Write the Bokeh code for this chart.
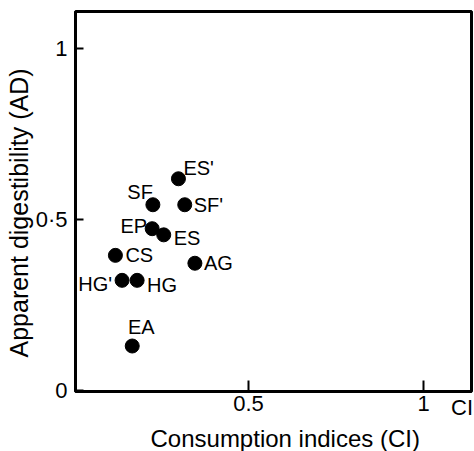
from bokeh.plotting import figure
from bokeh.models import ColumnDataSource, FixedTicker, LinearAxis, Title
from bokeh.core.properties import value
from bokeh.embed import file_html
from bokeh.resources import INLINE

# ---- data ----
names = ["ES'", "SF", "SF'", "EP", "ES", "CS", "AG", "HG'", "HG", "EA"]
ci = [0.30, 0.227, 0.318, 0.225, 0.258, 0.12, 0.347, 0.139, 0.182, 0.168]
ad = [0.619, 0.543, 0.543, 0.473, 0.455, 0.395, 0.372, 0.322, 0.322, 0.13]
x_ticks = [0.5, 1]
x_tick_labels = ["0.5", "1"]
x_unit_pos = [1.11]
x_unit_label = ["CI"]
y_ticks = [0, 0.5, 1]
y_tick_labels = ["0", "0·5", "1"]

# ---- label placement (layout, screen pixels) ----
lab_dx = [5, 0, 9, -5, 10, 10, 9, -10, 10, 9]
lab_dy = [-11, -13, 0, -3, 3, 0, 0, 4, 5, -19]
lab_align = ["left", "right", "left", "right", "left", "left", "left", "right", "left", "center"]

FONT = "Liberation Sans"

p = figure(width=474, height=451, output_backend="svg", toolbar_location=None,
           x_range=(0.006, 1.137), y_range=(-0.003, 1.108),
           min_border_left=75, min_border_right=3, min_border_top=11, min_border_bottom=60)
p.background_fill_color = "white"
p.border_fill_color = "white"
p.outline_line_color = "black"
p.outline_line_width = 3
p.xgrid.visible = False
p.ygrid.visible = False

def style(ax, ticks, labels, tin):
    ax.ticker = FixedTicker(ticks=ticks)
    ax.major_label_overrides = {t: l for t, l in zip(ticks, labels)}
    ax.major_tick_in = tin
    ax.major_tick_out = 0
    ax.minor_tick_line_color = None
    ax.major_tick_line_width = 2
    ax.major_tick_line_color = "black"
    ax.axis_line_width = 3
    ax.axis_line_color = "black"
    ax.major_label_text_font = FONT
    ax.major_label_text_font_size = "22px"
    ax.major_label_text_color = "black"

# bottom axis: line, ticks and tick labels
xa = p.xaxis[0]
style(xa, x_ticks, x_tick_labels, 11)
xa.major_label_standoff = 4

# second bottom axis: only the unit mark, pulled up to the tick-label row
xb = LinearAxis()
style(xb, x_unit_pos, x_unit_label, 0)
xb.axis_line_color = None
xb.major_tick_line_color = None
xb.major_label_standoff = -19
p.add_layout(xb, "below")

ya = p.yaxis[0]
style(ya, y_ticks, y_tick_labels, 8)
ya.major_label_standoff = 8

src = ColumnDataSource(dict(x=ci, y=ad, name=names, dx=lab_dx, dy=lab_dy, align=lab_align))
p.scatter("x", "y", source=src, size=14, color="black")
p.text("x", "y", text="name", source=src, x_offset="dx", y_offset="dy",
       text_align="align", text_baseline="alphabetic",
       text_font=value(FONT), text_font_size="20px", text_color="black")

# axis titles
p.add_layout(Title(text="Consumption indices (CI)", align="left", offset=75,
                   text_font=FONT, text_font_size="24px", text_font_style="normal",
                   text_color="black", standoff=0), "below")
p.add_layout(Title(text="Apparent digestibility (AD)", align="left", offset=34,
                   text_font=FONT, text_font_size="25px", text_font_style="normal",
                   text_color="black", standoff=0), "left")

open("out.html", "w").write(file_html(p, INLINE))
